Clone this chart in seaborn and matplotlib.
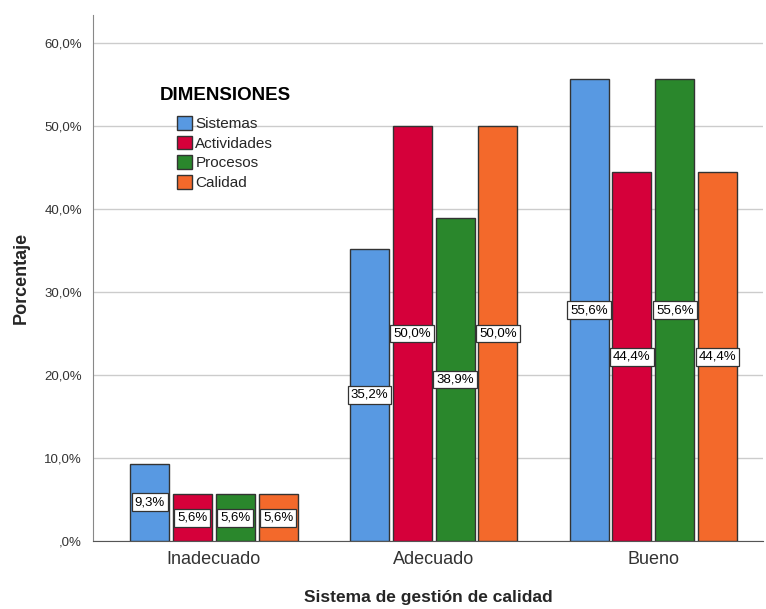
import numpy as np
import pandas as pd
import matplotlib
matplotlib.use("Agg")
import matplotlib.pyplot as plt
import seaborn as sns

categorias = ["Inadecuado", "Adecuado", "Bueno"]
dimensiones = ["Sistemas", "Actividades", "Procesos", "Calidad"]
sistemas = [9.3, 35.2, 55.6]
actividades = [5.6, 50.0, 44.4]
procesos = [5.6, 38.9, 55.6]
calidad = [5.6, 50.0, 44.4]
colores = ["#5899E2", "#D5003A", "#2A872C", "#F3692B"]
yticks = [0, 10, 20, 30, 40, 50, 60]

rows = []
for dim, vals in zip(dimensiones, [sistemas, actividades, procesos, calidad]):
    for cat, v in zip(categorias, vals):
        rows.append({"Sistema": cat, "Dimension": dim, "Porcentaje": v})
df = pd.DataFrame(rows)

sns.set_style("white")
plt.rcParams['font.family'] = ['Liberation Sans', 'DejaVu Sans']

fig = plt.figure(figsize=(7.66, 6.09), dpi=100)
ax = fig.add_axes([0.1214, 0.1117, 0.875, 0.863])

sns.barplot(data=df, x="Sistema", y="Porcentaje", hue="Dimension",
            order=categorias, hue_order=dimensiones, palette=colores,
            width=0.78, gap=0.09, edgecolor="#333333", linewidth=1.0,
            saturation=1, ax=ax, zorder=3)

ax.set_ylim(0, 63.3)
ax.set_xlim(-0.55, 2.5)
ax.set_yticks(yticks)
ax.set_yticklabels([("%d,0%%" % t) if t > 0 else ",0%" for t in yticks],
                   fontsize=9.5, color="#333333")
ax.tick_params(axis="x", labelsize=13, colors="#333333", length=0, pad=7)
ax.tick_params(axis="y", length=0, pad=8)
ax.yaxis.grid(True, color="#cccccc", linewidth=1, zorder=0)
ax.set_axisbelow(True)
for s in ["top", "right"]:
    ax.spines[s].set_visible(False)
ax.spines["left"].set_color("#888888")
ax.spines["bottom"].set_color("#555555")

ax.set_xlabel("Sistema de gestión de calidad", fontsize=12.5, fontweight="bold", labelpad=16)
ax.set_ylabel("Porcentaje", fontsize=13, fontweight="bold", labelpad=10)

for cont in ax.containers:
    for bar in cont:
        h = bar.get_height()
        ax.text(bar.get_x() + bar.get_width() / 2, h / 2,
                ("%.1f%%" % h).replace(".", ","), ha="center", va="center",
                fontsize=9.5, color="black", zorder=5,
                bbox=dict(boxstyle="square,pad=0.22", fc="white", ec="#333333", lw=0.9))

# titulo de la leyenda aparte, desplazado a la izquierda como en SPSS
fig.text(160 / 766, 1 - 95 / 609, "DIMENSIONES", fontsize=13.5, fontweight="bold",
         ha="left", va="center", color="black")
leg = ax.legend(loc="upper left", bbox_to_anchor=(177 / 766, 1 - 116 / 609),
                bbox_transform=fig.transFigure, borderaxespad=0, borderpad=0,
                frameon=False, fontsize=11, handlelength=0.95, handleheight=1.0,
                handletextpad=0.25, labelspacing=0.3)
for p in leg.get_patches():
    p.set_edgecolor("#333333")

fig.savefig("out.png", dpi=100)
